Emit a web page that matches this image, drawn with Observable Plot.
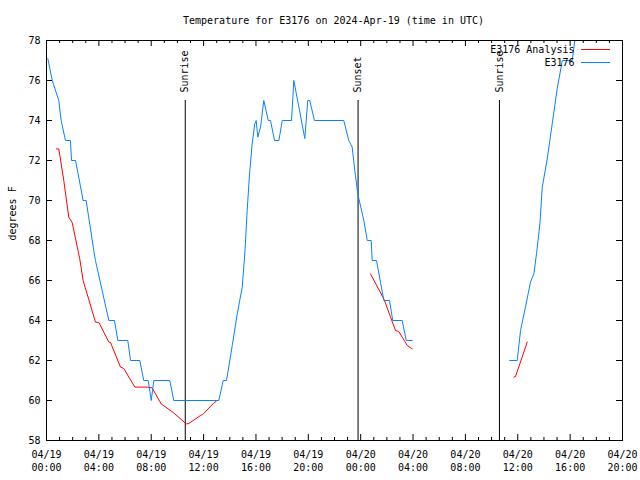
<!DOCTYPE html>
<html>
<head>
<meta charset="utf-8">
<script src="https://cdn.jsdelivr.net/npm/d3@7"></script>
<script src="https://cdn.jsdelivr.net/npm/@observablehq/plot@0.6"></script>
<style>
  html, body { margin: 0; padding: 0; background: white; }
</style>
</head>
<body>
<div id="chart"></div>
<script>
// ---- data (hours after 2024-04-19 00:00 UTC; null = gap) ----
const titleText = "Temperature for E3176 on 2024-Apr-19 (time in UTC)";
const yLabel = "degrees F";
const seriesNames = ["E3176 Analysis", "E3176"];
const seriesColors = ["#ff0000", "#0a80ff"];

const stationHours = [0.10,0.44,0.94,1.12,1.45,1.83,1.91,2.22,2.80,3.03,3.61,3.74,4.76,5.19,5.45,6.21,6.42,7.13,7.43,7.77,8.00,8.20,9.42,9.72,13.16,13.50,13.75,14.19,14.57,14.95,15.15,15.33,15.51,15.71,15.91,16.02,16.14,16.35,16.60,16.94,17.11,17.42,17.75,18.01,18.72,18.89,19.33,19.73,19.96,20.11,20.47,22.71,23.09,23.35,23.55,23.78,24.24,24.50,24.80,24.88,25.21,25.77,26.20,26.45,27.17,27.48,27.94,31.0,35.39,35.96,36.21,36.59,36.97,37.23,37.43,37.69,37.87,38.25,38.63,39.01,39.40,40.16,40.45];
const stationTemps = [77.1,76.0,75.0,74.0,73.0,73.0,72.0,72.0,70.0,70.0,67.5,67.0,64.0,64.0,63.0,63.0,62.0,62.0,61.0,61.0,60.0,61.0,61.0,60.0,60.0,61.0,61.0,62.75,64.33,65.67,67.33,69.5,71.33,72.83,73.83,74.0,73.17,73.67,75.0,74.0,74.0,73.0,73.0,74.0,74.0,76.0,74.5,73.1,75.0,75.0,74.0,74.0,73.0,72.67,71.5,70.33,69.0,68.0,68.0,67.0,67.0,65.0,65.0,64.0,64.0,63.0,63.0,null,62.0,62.0,63.5,64.67,65.92,66.33,67.33,68.83,70.67,72.08,73.83,75.58,77.0,77.0,78.5];

const analysisHours = [0.76,0.94,1.32,1.70,1.96,2.54,2.80,3.74,4.00,4.76,4.89,5.65,5.90,6.75,7.69,8.07,8.76,9.72,10.67,10.87,11.76,11.94,12.78,12.96,18.0,24.75,25.77,26.66,26.91,27.56,27.94,31.0,35.70,35.83,36.72];
const analysisTemps = [72.58,72.58,71.0,69.17,68.9,67.08,66.0,63.92,63.9,62.92,62.9,61.67,61.6,60.67,60.67,60.63,59.83,59.38,58.83,58.85,59.25,59.3,59.88,59.95,null,66.33,65.08,63.5,63.45,62.75,62.58,null,61.17,61.2,62.92];

const eventHours = [10.6, 23.8, 34.6];
const eventLabels = ["Sunrise", "Sunset", "Sunrise"];

const yTicks = [58,60,62,64,66,68,70,72,74,76,78];
const xStartHour = 0, xEndHour = 44;

// ---- build tables ----
const t0 = Date.UTC(2024, 3, 19);
const toDate = h => new Date(t0 + h * 3600e3);
const stationData = stationHours.map((h, i) => ({time: toDate(h), temp: stationTemps[i]}));
const analysisData = analysisHours.map((h, i) => ({time: toDate(h), temp: analysisTemps[i]}));
const events = eventHours.map((h, i) => ({time: toDate(h), label: eventLabels[i]}));
const domainX = [toDate(xStartHour), toDate(xEndHour)];
const hourTicks = d3.utcHour.range(domainX[0], new Date(+domainX[1] + 1));
const majorTicks = hourTicks.filter(d => d.getUTCHours() % 4 === 0);
const minorTicks = hourTicks.filter(d => d.getUTCHours() % 4 !== 0);

const font = "'DejaVu Sans Mono', 'Liberation Mono', monospace";
const txt = {fill: "black", lineAnchor: "middle", fontSize: 10};

const chart = Plot.plot({
  width: 640,
  height: 480,
  marginLeft: 46,
  marginRight: 18,
  marginTop: 40,
  marginBottom: 40,
  style: {fontFamily: font, fontSize: "10px", background: "white", color: "black"},
  x: {type: "utc", domain: domainX, axis: null},
  y: {domain: [58, 78], axis: null},
  marks: [
    // sunrise/sunset markers
    Plot.ruleX(events, {x: "time", insetTop: 60, stroke: "black", strokeWidth: 1}),
    Plot.text(events, {...txt, x: "time", text: "label", frameAnchor: "top", rotate: -90, textAnchor: "start", dy: 52}),
    // data lines
    Plot.line(analysisData, {x: "time", y: "temp", stroke: seriesColors[0], strokeWidth: 1, clip: true}),
    Plot.line(stationData, {x: "time", y: "temp", stroke: seriesColors[1], strokeWidth: 1, clip: true}),
    // frame and inward ticks
    Plot.frame({stroke: "black"}),
    Plot.tickX(minorTicks, {x: d => d, insetTop: 397, stroke: "black"}),
    Plot.tickX(minorTicks, {x: d => d, insetBottom: 397, stroke: "black"}),
    Plot.tickX(majorTicks, {x: d => d, insetTop: 394, stroke: "black"}),
    Plot.tickX(majorTicks, {x: d => d, insetBottom: 394, stroke: "black"}),
    Plot.tickY(yTicks, {y: d => d, insetRight: 570, stroke: "black"}),
    Plot.tickY(yTicks, {y: d => d, insetLeft: 570, stroke: "black"}),
    // tick labels
    Plot.text(yTicks, {...txt, y: d => d, text: d => String(d), frameAnchor: "left", textAnchor: "end", dx: -6}),
    Plot.text(majorTicks, {...txt, x: d => d, text: d3.utcFormat("%m/%d"), frameAnchor: "bottom", dy: 14}),
    Plot.text(majorTicks, {...txt, x: d => d, text: d3.utcFormat("%H:%M"), frameAnchor: "bottom", dy: 27}),
    // titles
    Plot.text([titleText], {...txt, text: d => d, frameAnchor: "top", dy: -20, dx: -1}),
    Plot.text([yLabel], {...txt, text: d => d, frameAnchor: "left", dx: -34, rotate: -90}),
    // legend labels
    Plot.text([seriesNames[0]], {...txt, text: d => d, frameAnchor: "top-right", textAnchor: "end", dx: -48, dy: 9.5}),
    Plot.text([seriesNames[1]], {...txt, text: d => d, frameAnchor: "top-right", textAnchor: "end", dx: -48, dy: 22.5})
  ]
});

// legend sample lines
const svg = d3.select(chart);
const legend = svg.append("g").attr("shape-rendering", "crispEdges");
seriesColors.forEach((c, i) => {
  legend.append("line")
    .attr("x1", 581).attr("x2", 610)
    .attr("y1", 49.5 + 13 * i).attr("y2", 49.5 + 13 * i)
    .attr("stroke", c).attr("stroke-width", 1);
});

document.getElementById("chart").appendChild(chart);
</script>
</body>
</html>
